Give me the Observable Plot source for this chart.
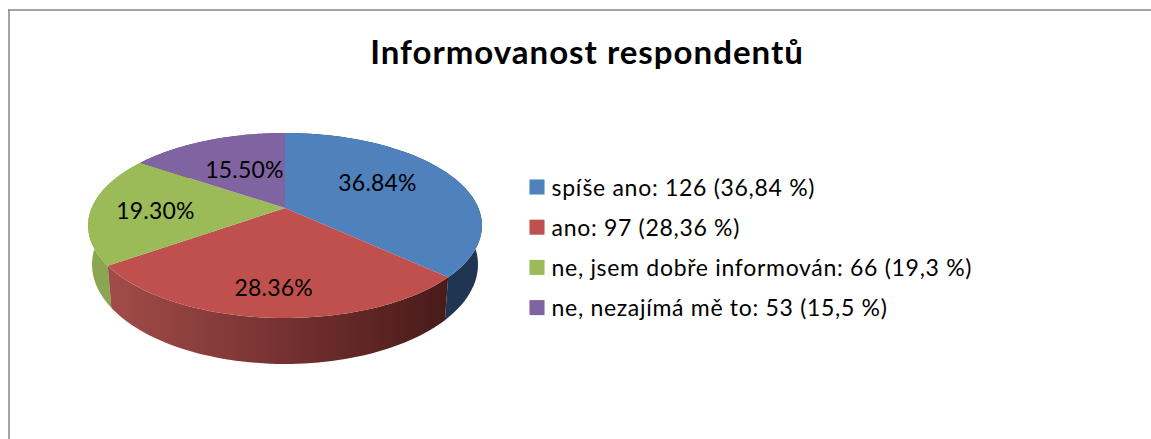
<!DOCTYPE html>
<html>
<head>
<meta charset="utf-8">
<style>html,body{margin:0;padding:0;background:#fff;overflow:hidden}svg{display:block}
.title-mark text{letter-spacing:1px}
.legend-mark text{letter-spacing:.7px}
.slice-mark text{letter-spacing:.2px}</style>
<script src="https://cdn.jsdelivr.net/npm/d3@7"></script>
<script src="https://cdn.jsdelivr.net/npm/@observablehq/plot@0.6"></script>
</head>
<body>
<div id="chart"></div>
<script>
const categories = ["spíše ano", "ano", "ne, jsem dobře informován", "ne, nezajímá mě to"];
const counts = [126, 97, 66, 53];
const percents = [36.84, 28.36, 19.3, 15.5];
const sliceLabels = ["36.84%", "28.36%", "19.30%", "15.50%"];
const legendLabels = ["spíše ano: 126 (36,84 %)", "ano: 97 (28,36 %)", "ne, jsem dobře informován: 66 (19,3 %)", "ne, nezajímá mě to: 53 (15,5 %)"];
const topColors = ["#4F81BD", "#C0504D", "#9BBB59", "#8064A2"];
const title = "Informovanost respondentů";

const W = 1151, H = 439;
const CX = 285, K = 0.189;
const top3d = {a: 193.4, b: 89.2, y0: 208};
const bot3d = {a: 189.5, b: 96, y0: 245.6};
const TAU = Math.PI * 2;
const project = (t, g, r = 1) => {
  const w = 1 + K * r * Math.cos(t);
  return [CX + g.a * r * Math.sin(t) / w, g.y0 - g.b * r * Math.cos(t) / w];
};

const total = d3.sum(counts);
const arcs = [];
let acc = 0;
counts.forEach((c, i) => { arcs.push({i, t0: acc / total * TAU, t1: (acc + c) / total * TAU}); acc += c; });

const arcThetas = (a) => d3.range(0, 61).map(k => a.t0 + (a.t1 - a.t0) * k / 60);

const topRows = arcs.flatMap(a => arcThetas(a).map(t => {
  const [x, y] = project(t, top3d);
  return {i: a.i, x1: CX, y1: top3d.y0, x2: x, y2: y};
}));
const wallRows = arcs.flatMap(a => arcThetas(a).map(t => {
  const [x1, y1] = project(t, top3d);
  const [x2, y2] = project(t, bot3d);
  return {i: a.i, x1, y1, x2, y2};
}));

// label anchors: radius fraction and angular bias (degrees) from each slice's mid-angle
const labelR = [0.583, 0.769, 0.669, 0.517];
const labelBias = [-6.8, 0.2, -2.4, 1.4];
const labelRows = arcs.map(a => {
  const t = (a.t0 + a.t1) / 2 + labelBias[a.i] * Math.PI / 180;
  const [x, y] = project(t, top3d, labelR[a.i]);
  return {i: a.i, x, y};
});

const legendTop = 186.5, legendStep = 40.2;
const legendRows = categories.map((c, i) => ({i, y: legendTop + i * legendStep}));

const defs = () => {
  const ns = "http://www.w3.org/2000/svg";
  const d = document.createElementNS(ns, "defs");
  const grad = (id, stops) => {
    const g = document.createElementNS(ns, "linearGradient");
    g.setAttribute("id", id);
    stops.forEach(([o, c]) => {
      const s = document.createElementNS(ns, "stop");
      s.setAttribute("offset", o); s.setAttribute("stop-color", c);
      g.appendChild(s);
    });
    d.appendChild(g);
  };
  grad("wallRed", [[0, "#A24C49"], [0.45, "#7B3533"], [1, "#481A1A"]]);
  return d;
};

const wallFills = ["#1F3552", "url(#wallRed)", "#8AA650", "#5F4A79"];

const fontFamily = "Lato, Carlito, Calibri, sans-serif";
const chart = Plot.plot({
  width: W, height: H, margin: 0,
  x: {domain: [0, W], range: [0, W], axis: null},
  y: {domain: [0, H], range: [0, H], axis: null},
  style: {background: "#fff", fontFamily},
  marks: [
    defs,
    Plot.ruleX([8.5], {y1: 9.5, y2: H, stroke: "#868686", strokeWidth: 1.5}),
    Plot.ruleY([9.5], {x1: 8, x2: W, stroke: "#868686", strokeWidth: 1.5}),
    ...[3, 2, 0, 1].map(i => Plot.area(wallRows.filter(d => d.i === i), {x1: "x1", y1: "y1", x2: "x2", y2: "y2", fill: wallFills[i]})),
    ...[0, 1, 2, 3].map(i => Plot.area(topRows.filter(d => d.i === i), {x1: "x1", y1: "y1", x2: "x2", y2: "y2", fill: topColors[i]})),
    Plot.text(labelRows, {x: "x", y: "y", text: d => sliceLabels[d.i], fontSize: 23, fill: "#000", className: "slice-mark"}),
    Plot.text([title], {x: [586.5], y: [53], fontSize: 33, fontWeight: 700, fill: "#000", className: "title-mark"}),
    Plot.dot(legendRows, {x: 536.5, y: "y", r: 8.5, symbol: "square", fill: d => topColors[d.i], stroke: "none"}),
    Plot.text(legendRows, {x: 551, y: d => d.y + 1.5, text: d => legendLabels[d.i], textAnchor: "start", fontSize: 23, fill: "#000", className: "legend-mark"})
  ]
});
document.getElementById("chart").appendChild(chart);
</script>
</body>
</html>
